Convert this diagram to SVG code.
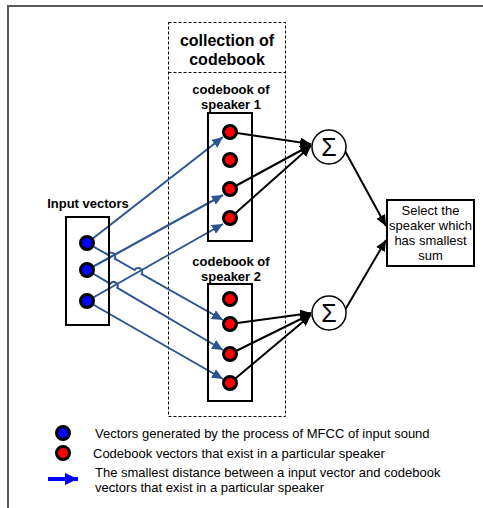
<svg xmlns="http://www.w3.org/2000/svg" width="483" height="508" viewBox="0 0 483 508">
  <style>
    .bold { font-family: "Liberation Sans", Arial, sans-serif; font-weight: bold; fill: #000; }
    .reg { font-family: "Liberation Sans", Arial, sans-serif; fill: #000; }
    .box { fill: none; stroke: #000; stroke-width: 2; }
    .dash { fill: none; stroke: #000; stroke-width: 1; stroke-dasharray: 3 2; }
    .red { fill: #ff0000; stroke: #000; stroke-width: 3; }
    .blue { fill: #0000ff; stroke: #000; stroke-width: 3; }
    .bl { fill: none; stroke: #2b5590; stroke-width: 2; marker-end: url(#headBlue); }
    .bk { fill: none; stroke: #000; stroke-width: 2; marker-end: url(#headBlack); }
    .sum { fill: #fff; stroke: #000; stroke-width: 1.5; }
  </style>
  <defs>
    <marker id="headBlue" markerUnits="userSpaceOnUse" markerWidth="12" markerHeight="10" refX="11" refY="5" orient="auto">
      <path d="M0,0 L11,5 L0,10 z" fill="#2b5590"/>
    </marker>
    <marker id="headBlack" markerUnits="userSpaceOnUse" markerWidth="12" markerHeight="10" refX="11" refY="5" orient="auto">
      <path d="M0,0 L11,5 L0,10 z" fill="#000"/>
    </marker>
    <marker id="headLegend" markerUnits="userSpaceOnUse" markerWidth="14" markerHeight="12" refX="13" refY="6" orient="auto">
      <path d="M0,0 L13,6 L0,12 z" fill="#0000ff"/>
    </marker>
  </defs>

  <rect width="483" height="508" fill="#fff"/>

  <!-- page frame -->
  <path d="M7,6 H483 M8,5 V508" fill="none" stroke="#5a5a5a" stroke-width="2"/>

  <!-- dashed container -->
  <g id="collection">
    <rect class="dash" x="168.5" y="22.5" width="117" height="394"/>
    <line class="dash" x1="168.5" y1="72.5" x2="285.5" y2="72.5"/>
    <text class="bold" font-size="16" x="227" y="46" text-anchor="middle">collection of</text>
    <text class="bold" font-size="16" x="227" y="65" text-anchor="middle">codebook</text>
  </g>

  <!-- connectors -->
  <g id="connectors">
    <!-- input vectors to codebook vectors -->
    <path class="bl" d="M87,243 L223,137"/>
    <path class="bl" d="M87,243 L107.7,254.7 A4,4 0 0 1 114.7,258.7 L134.7,270 A4,4 0 0 1 141.7,274 L223,320"/>
    <path class="bl" d="M87,270 L223,195"/>
    <path class="bl" d="M87,270 L110.4,283.8 A4,4 0 0 1 117.3,287.8 L223,350"/>
    <path class="bl" d="M87,301 L223,224"/>
    <path class="bl" d="M87,301 L223,379"/>
    <!-- codebook vectors to sums -->
    <path class="bk" d="M230,132 L311,144"/>
    <path class="bk" d="M230,189 L311,145"/>
    <path class="bk" d="M230,218 L311,146"/>
    <path class="bk" d="M230,324 L311,313"/>
    <path class="bk" d="M230,354 L311,314"/>
    <path class="bk" d="M230,383 L311,315"/>
    <!-- sums to selection -->
    <path class="bk" d="M345,151 L386,226"/>
    <path class="bk" d="M345,310 L386,240"/>
  </g>

  <g id="input-vectors">
    <text class="bold" font-size="13" x="88" y="208" text-anchor="middle">Input vectors</text>
    <rect class="box" x="66" y="217" width="43" height="108"/>
    <circle class="blue" cx="87" cy="243" r="6.5"/>
    <circle class="blue" cx="87" cy="270" r="6.5"/>
    <circle class="blue" cx="87" cy="301" r="6.5"/>
  </g>

  <g id="speaker1">
    <text class="bold" font-size="13" x="231" y="94" text-anchor="middle">codebook of</text>
    <text class="bold" font-size="13" x="231" y="109" text-anchor="middle">speaker 1</text>
    <rect class="box" x="208" y="113" width="44" height="128"/>
    <circle class="red" cx="230" cy="132" r="6.5"/>
    <circle class="red" cx="230" cy="160" r="6.5"/>
    <circle class="red" cx="230" cy="189" r="6.5"/>
    <circle class="red" cx="230" cy="218" r="6.5"/>
  </g>

  <g id="speaker2">
    <text class="bold" font-size="13" x="231" y="266" text-anchor="middle">codebook of</text>
    <text class="bold" font-size="13" x="231" y="281" text-anchor="middle">speaker 2</text>
    <rect class="box" x="208" y="284" width="44" height="117"/>
    <circle class="red" cx="230" cy="299" r="6.5"/>
    <circle class="red" cx="230" cy="324" r="6.5"/>
    <circle class="red" cx="230" cy="354" r="6.5"/>
    <circle class="red" cx="230" cy="383" r="6.5"/>
  </g>

  <g id="sum1">
    <circle class="sum" cx="329" cy="147" r="17"/>
    <text class="reg" font-size="25" x="329" y="156" text-anchor="middle">Σ</text>
  </g>

  <g id="sum2">
    <circle class="sum" cx="329" cy="313" r="17"/>
    <text class="reg" font-size="25" x="329" y="322" text-anchor="middle">Σ</text>
  </g>

  <g id="select">
    <rect class="box" x="387" y="200" width="87" height="66" style="fill:#fff"/>
    <text class="reg" font-size="13" x="430.5" y="215" text-anchor="middle">Select the</text>
    <text class="reg" font-size="13" x="430.5" y="230" text-anchor="middle">speaker which</text>
    <text class="reg" font-size="13" x="430.5" y="245" text-anchor="middle">has smallest</text>
    <text class="reg" font-size="13" x="430.5" y="260" text-anchor="middle">sum</text>
  </g>

  <g id="legend">
    <circle class="blue" cx="63" cy="433" r="6.5"/>
    <text class="reg" font-size="13" x="95" y="438">Vectors generated by the process of MFCC of input sound</text>
    <circle class="red" cx="63" cy="453" r="6.5"/>
    <text class="reg" font-size="13" x="93" y="458">Codebook vectors that exist in a particular speaker</text>
    <line x1="48" y1="479" x2="78" y2="479" stroke="#0000ff" stroke-width="4" marker-end="url(#headLegend)"/>
    <text class="reg" font-size="13" x="95" y="477">The smallest distance between a input vector and codebook</text>
    <text class="reg" font-size="13" x="95" y="492">vectors that exist in a particular speaker</text>
  </g>
</svg>
